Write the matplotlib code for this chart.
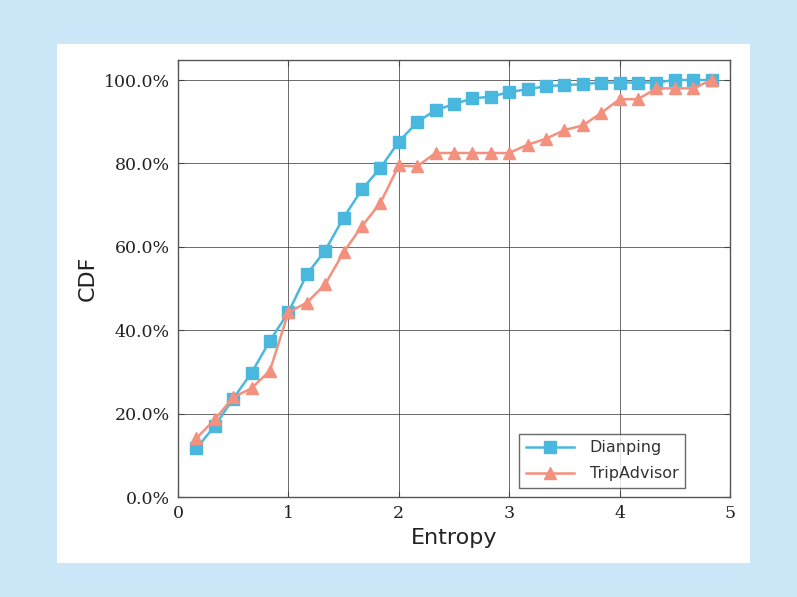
import matplotlib
matplotlib.use("Agg")
import matplotlib.pyplot as plt
from matplotlib.patches import Rectangle
from matplotlib.ticker import FuncFormatter

entropy = [0.167, 0.333, 0.5, 0.667, 0.833, 1.0, 1.167, 1.333, 1.5, 1.667, 1.833,
           2.0, 2.167, 2.333, 2.5, 2.667, 2.833, 3.0, 3.167, 3.333, 3.5, 3.667,
           3.833, 4.0, 4.167, 4.333, 4.5, 4.667, 4.833]
dianping = [0.117, 0.170, 0.236, 0.298, 0.375, 0.443, 0.534, 0.591, 0.670, 0.738, 0.789,
            0.852, 0.899, 0.928, 0.942, 0.956, 0.960, 0.971, 0.978, 0.985, 0.988, 0.990,
            0.994, 0.994, 0.994, 0.994, 1.0, 1.0, 1.0]
tripadvisor = [0.141, 0.186, 0.239, 0.261, 0.303, 0.443, 0.466, 0.510, 0.587, 0.650, 0.705,
               0.795, 0.793, 0.825, 0.825, 0.825, 0.825, 0.825, 0.845, 0.859, 0.880, 0.891,
               0.921, 0.954, 0.954, 0.980, 0.980, 0.980, 1.0]
xticks = [0, 1, 2, 3, 4, 5]
yticks = [0.0, 0.2, 0.4, 0.6, 0.8, 1.0]

fig = plt.figure(figsize=(7.97, 5.97), dpi=100)
fig.patch.set_facecolor('#cce8f8')
fig.patches.append(Rectangle((57/797, 34/597), 693/797, 519/597, transform=fig.transFigure,
                             facecolor='white', edgecolor='none', zorder=-10))

ax = fig.add_axes([178/797, 100/597, 552/797, 437/597])
ax.set_zorder(5)
ax.plot(entropy, dianping, color='#4ab8de', marker='s', markersize=9, lw=1.8,
        markeredgecolor='#4ab8de', label='Dianping', zorder=3)
ax.plot(entropy, tripadvisor, color='#f4907e', marker='^', markersize=8, lw=1.8,
        markeredgecolor='#f4907e', label='TripAdvisor', zorder=3)

ax.set_xlim(0, 5)
ax.set_ylim(0, 1.048)
ax.set_xticks(xticks)
ax.set_yticks(yticks)
ax.yaxis.set_major_formatter(FuncFormatter(lambda v, p: f"{v*100:.1f}%"))
for lbl in ax.get_xticklabels() + ax.get_yticklabels():
    lbl.set_fontfamily('DejaVu Serif')
    lbl.set_fontsize(12.5)
    lbl.set_color('#222222')
ax.tick_params(direction='in', top=True, right=True, length=4, color='#444444', pad=6)
ax.grid(True, color='#444444', lw=0.7, alpha=0.8)
ax.set_axisbelow(True)
for s in ax.spines.values():
    s.set_color('#555555')
    s.set_linewidth(1.0)

ax.set_xlabel('Entropy', fontsize=16, color='#222222')
ax.set_ylabel('CDF', fontsize=16, color='#222222')

leg = ax.legend(loc='lower right', bbox_to_anchor=(0.918, 0.021), borderaxespad=0,
                fontsize=11.5, frameon=True, fancybox=False, edgecolor='#444444',
                handlelength=3, labelspacing=0.7, handletextpad=1.0)
leg.get_frame().set_linewidth(1.0)
for t in leg.get_texts():
    t.set_color('#333333')

fig.savefig('out.png', dpi=100, facecolor=fig.get_facecolor())
